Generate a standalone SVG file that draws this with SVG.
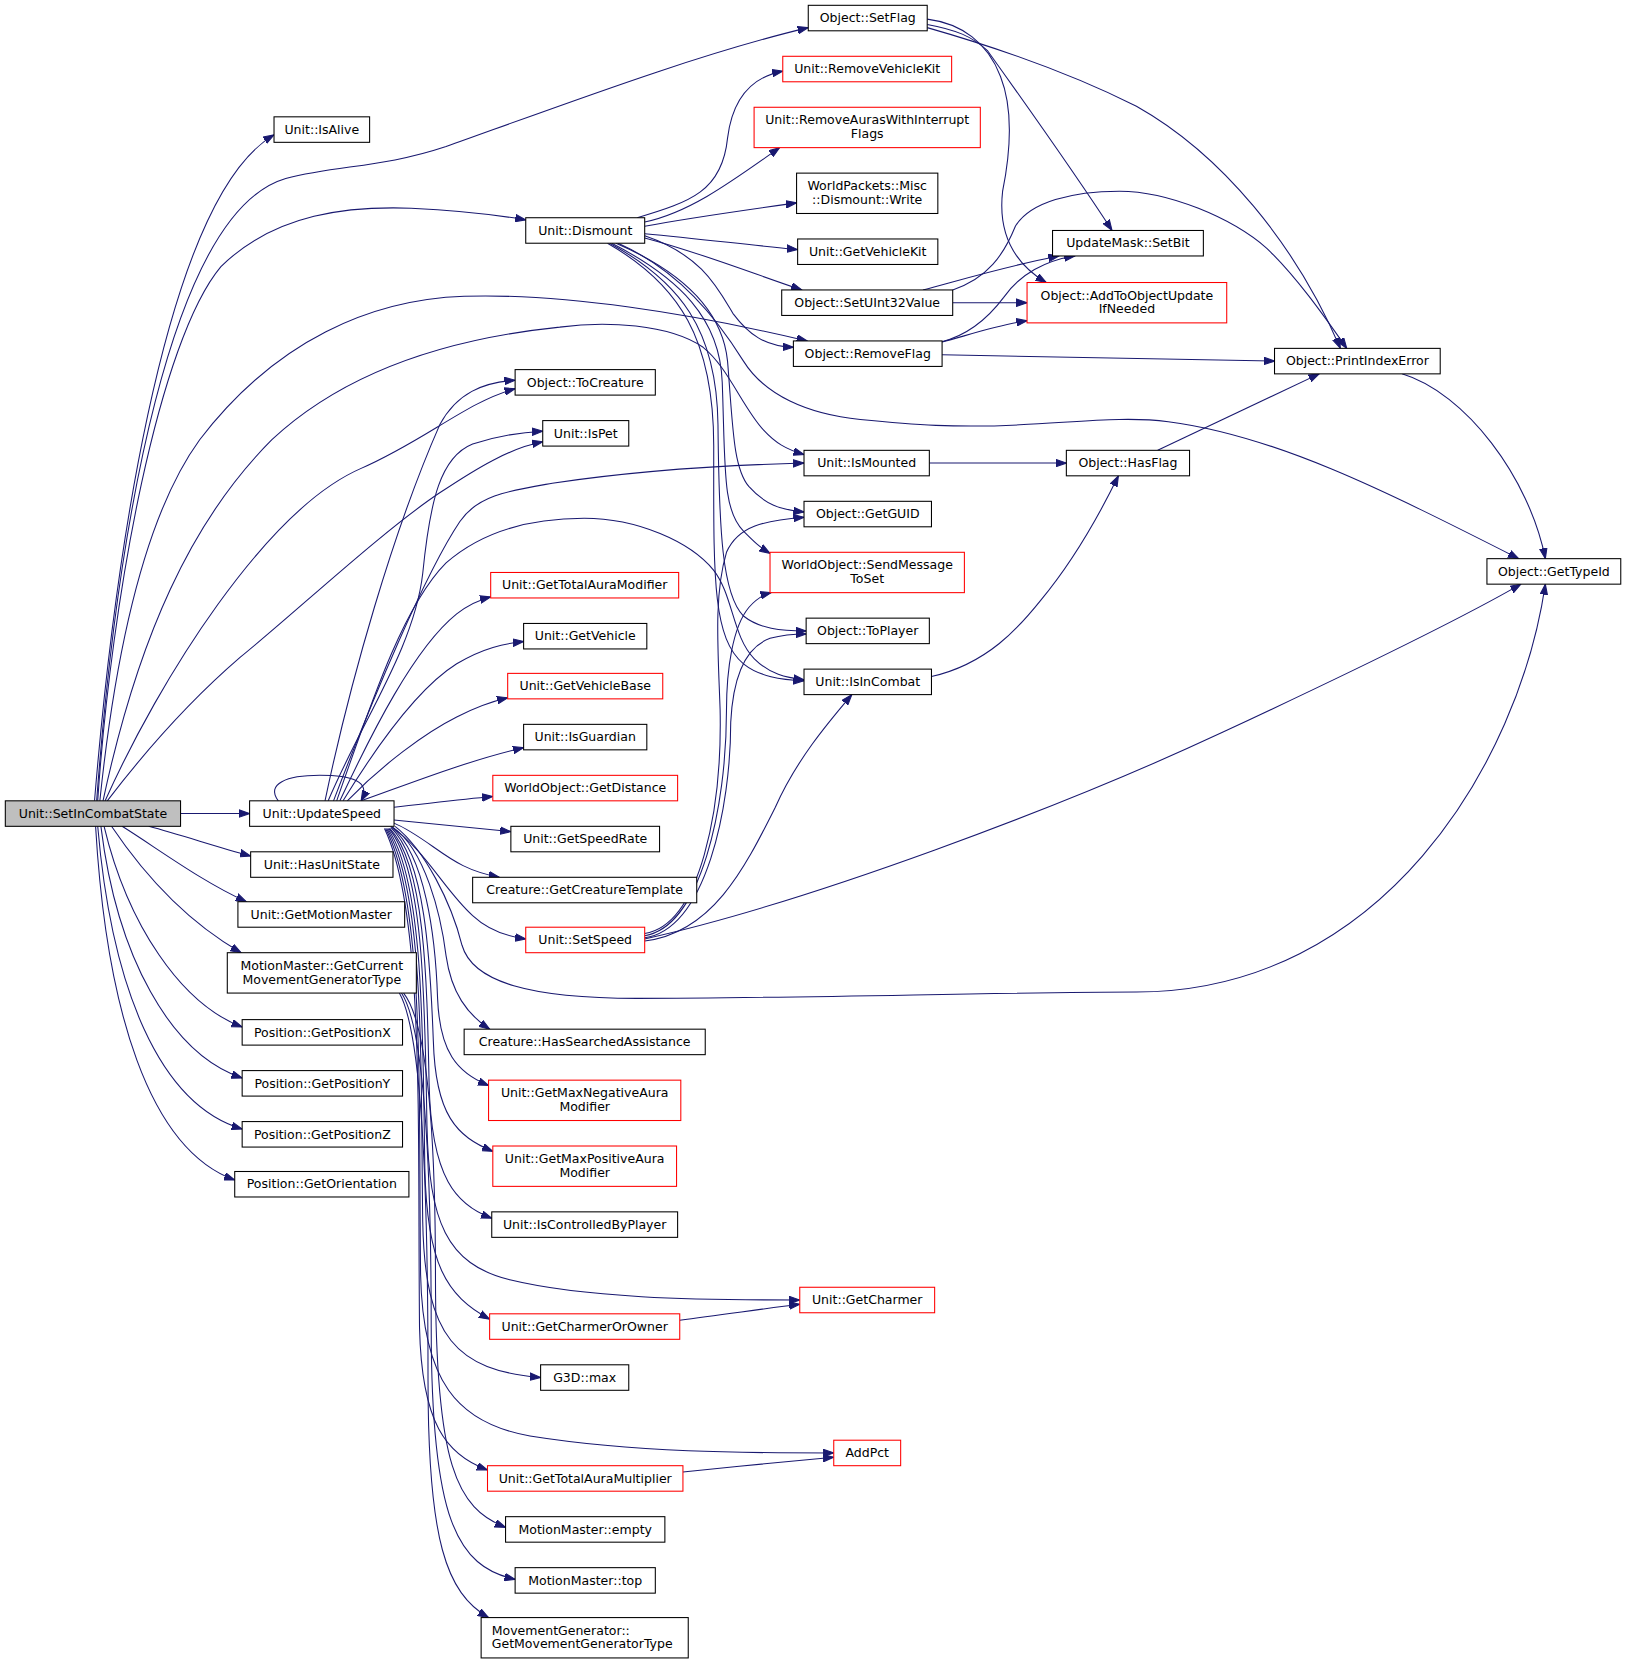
<svg xmlns="http://www.w3.org/2000/svg" width="1625" height="1663" viewBox="0 0 1625 1663">
<style>
.n rect{fill:#fff;stroke:#000;stroke-width:1}
.r rect{stroke:#f00}
.g rect{fill:#bfbfbf}
text{font-family:"DejaVu Sans","Liberation Sans",sans-serif;font-size:11.8px;text-anchor:middle;fill:#000}
.l text{text-anchor:start}
#edges path{fill:none;stroke:#191970;stroke-width:1;marker-end:url(#a)}
</style>
<defs>
<marker id="a" markerUnits="userSpaceOnUse" markerWidth="11" markerHeight="8" refX="10" refY="4" orient="auto"><path d="M0,0.5 L10,4 L0,7.5 z" fill="#191970" stroke="#191970" stroke-width="1"/></marker>
</defs>
<rect width="1625" height="1663" fill="#fff"/>
<g transform="scale(1.0621)">
<g id="edges">
<path d="M89,754 C105,560 150,190 258,127"/>
<path d="M91,754 C110,500 160,200 269,168 C320,155 360,158 420,138 C540,95 660,50 761,26"/>
<path d="M92,754 C105,560 150,320 208,251 C260,200 330,194 387,196 C430,198 460,201 495,207"/>
<path d="M94,754 C110,600 140,480 188,414 C260,320 350,282 437,279 C530,276 650,295 760,321"/>
<path d="M97,754 C130,600 180,490 256,414 C330,345 430,318 527,308 C570,302 630,305 662,327 C685,345 700,385 719,405 C730,417 740,423 757,428"/>
<path d="M99,754 C150,640 250,480 340,441 C400,415 440,378 485,366"/>
<path d="M101,754 C150,690 190,650 226,619 C280,575 360,500 414,464 C450,440 480,422 511,416"/>
<path d="M170,766 L235,766"/>
<path d="M140,778 C170,786 200,796 236,806"/>
<path d="M115,778 C150,800 190,830 232,849"/>
<path d="M105,778 C140,830 180,870 227,897"/>
<path d="M98,778 C120,870 170,945 228,967"/>
<path d="M95,778 C110,900 160,992 228,1015"/>
<path d="M92,778 C105,930 150,1040 228,1063"/>
<path d="M90,778 C100,950 140,1082 221,1111"/>
<path d="M262,754 C250,738 270,730 301,730 C330,730 350,735 340,754"/>
<path d="M306,754 C330,640 370,500 414,400 C430,370 455,360 485,358"/>
<path d="M309,754 C340,680 390,610 398,540 C405,470 415,430 445,418 C470,410 490,407 511,406"/>
<path d="M314,754 C350,660 400,540 433,491 C450,466 480,462 520,455 C600,443 680,438 757,436"/>
<path d="M317,754 C350,660 380,570 420,530 C460,495 510,488 550,488 C600,488 650,510 672,537 C690,560 690,600 710,620 C725,635 740,638 757,640"/>
<path d="M320,754 C350,690 390,610 430,578 C440,570 450,565 462,562"/>
<path d="M323,754 C350,710 390,650 430,625 C455,610 475,606 493,604"/>
<path d="M327,754 C360,720 400,690 430,675 C450,665 465,660 478,657"/>
<path d="M340,754 C380,740 440,716 493,704"/>
<path d="M371,760 C400,757 430,753 464,750"/>
<path d="M371,772 C410,776 450,780 481,783"/>
<path d="M371,775 C395,785 415,805 436,815 C450,822 460,824 470,826"/>
<path d="M368,778 C400,800 420,840 445,862 C460,876 480,882 495,884"/>
<path d="M372,778 C400,800 425,850 435,890 C445,925 500,940 600,940 C750,940 950,934 1070,934 C1300,934 1430,720 1455,550"/>
<path d="M370,779 C400,800 415,860 420,900 C425,935 440,955 461,969"/>
<path d="M369,779 C400,805 410,880 412,940 C414,990 430,1010 460,1022"/>
<path d="M368,779 C400,810 405,900 408,980 C410,1050 430,1070 464,1084"/>
<path d="M367,780 C400,815 402,920 404,1020 C406,1110 430,1135 463,1147"/>
<path d="M366,780 C400,820 400,950 402,1060 C404,1150 420,1190 480,1205 C550,1222 650,1224 753,1224"/>
<path d="M365,780 C400,830 398,980 400,1100 C402,1190 420,1220 461,1242"/>
<path d="M364,780 C400,840 396,1000 398,1150 C400,1260 430,1290 509,1297"/>
<path d="M363,780 C400,850 394,1030 396,1200 C398,1300 430,1340 499,1352 C600,1368 700,1368 785,1368"/>
<path d="M362,780 C400,860 393,1060 395,1250 C397,1340 420,1370 459,1384"/>
<path d="M380,935 C400,960 410,1050 410,1200 C410,1380 430,1420 476,1438"/>
<path d="M378,935 C398,965 406,1080 406,1250 C406,1430 430,1475 485,1487"/>
<path d="M376,935 C396,970 403,1100 403,1300 C403,1450 420,1500 460,1523"/>
<path d="M640,1243 C680,1238 720,1232 753,1228"/>
<path d="M643,1386 C690,1381 740,1376 785,1372"/>
<path d="M600,205 C650,190 680,180 685,130 C690,90 710,72 737,67"/>
<path d="M607,209 C650,200 690,170 734,139"/>
<path d="M607,213 C650,205 700,198 750,191"/>
<path d="M607,220 C660,225 700,230 751,235"/>
<path d="M607,224 C660,238 710,258 755,273"/>
<path d="M607,222 C660,240 675,270 690,295 C705,315 720,326 747,327"/>
<path d="M580,229 C640,255 680,290 685,340 C690,400 690,440 705,458 C720,475 735,480 757,482"/>
<path d="M576,229 C640,262 678,300 680,360 C683,440 680,480 700,500 C710,510 715,515 725,521"/>
<path d="M574,229 C640,265 675,310 676,400 C677,500 680,560 700,580 C715,592 735,594 759,594"/>
<path d="M572,229 C640,268 672,320 672,420 C672,540 670,600 700,625 C715,637 735,640 757,641"/>
<path d="M582,229 C640,255 675,300 700,340 C720,372 760,390 810,395 C860,400 900,403 960,400 C1020,397 1060,392 1100,397 C1200,410 1300,460 1430,526"/>
<path d="M607,884 C760,850 1000,760 1150,690 C1300,620 1380,580 1432,550"/>
<path d="M607,879 C660,870 680,760 678,668 C676,610 672,560 684,520 C695,495 720,490 757,487"/>
<path d="M607,881 C660,872 684,760 684,669 C684,630 690,590 705,572 C712,564 718,560 726,558"/>
<path d="M607,883 C665,874 688,760 688,680 C690,640 700,610 725,601 C740,597 750,597 759,597"/>
<path d="M607,886 C670,878 700,820 730,760 C750,715 780,680 802,654"/>
<path d="M1320,352 C1380,370 1440,450 1455,526"/>
<path d="M877,637 C930,625 960,590 980,565 C1005,535 1030,495 1053,448"/>
<path d="M875,436 L1004,436"/>
<path d="M1090,424 L1242,352"/>
<path d="M887,334 C1000,336 1100,338 1200,340"/>
<path d="M887,322 C910,316 940,306 967,302"/>
<path d="M886,322 C910,316 930,300 945,280 C960,258 985,245 1012,241"/>
<path d="M869,273 C910,262 950,250 997,241"/>
<path d="M897,285 L967,285"/>
<path d="M897,273 C930,262 945,240 956,213 C970,190 1010,180 1054,180 C1100,180 1160,205 1193,234 C1220,260 1245,295 1268,328"/>
<path d="M873,23 C900,28 915,34 930,48 C960,90 1010,160 1047,217"/>
<path d="M873,18 C905,22 930,40 942,72 C955,105 950,150 944,180 C940,215 950,245 985,266"/>
<path d="M873,26 C950,48 1020,75 1070,100 C1150,145 1220,230 1262,328"/>
</g>
<g id="n1" class="n g"><rect x="5" y="754" width="165" height="24"/><text x="87.5" y="770">Unit::SetInCombatState</text></g>
<g id="n2" class="n"><rect x="258" y="110" width="90" height="24"/><text x="303" y="126">Unit::IsAlive</text></g>
<g id="n3" class="n"><rect x="761" y="5" width="112" height="24"/><text x="817" y="21">Object::SetFlag</text></g>
<g id="n4" class="n r"><rect x="737" y="53" width="159" height="24"/><text x="816.5" y="69">Unit::RemoveVehicleKit</text></g>
<g id="n5" class="n r"><rect x="710" y="101" width="213" height="38"/><text x="816.5" y="117">Unit::RemoveAurasWithInterrupt</text><text x="816.5" y="130">Flags</text></g>
<g id="n6" class="n"><rect x="750" y="163" width="133" height="38"/><text x="816.5" y="179">WorldPackets::Misc</text><text x="816.5" y="192">::Dismount::Write</text></g>
<g id="n7" class="n"><rect x="495" y="205" width="112" height="24"/><text x="551" y="221">Unit::Dismount</text></g>
<g id="n8" class="n"><rect x="751" y="225" width="132" height="24"/><text x="817" y="241">Unit::GetVehicleKit</text></g>
<g id="n9" class="n"><rect x="991" y="217" width="142" height="24"/><text x="1062" y="233">UpdateMask::SetBit</text></g>
<g id="n10" class="n"><rect x="736" y="273" width="161" height="24"/><text x="816.5" y="289">Object::SetUInt32Value</text></g>
<g id="n11" class="n r"><rect x="967" y="266" width="188" height="38"/><text x="1061" y="282">Object::AddToObjectUpdate</text><text x="1061" y="295">IfNeeded</text></g>
<g id="n12" class="n"><rect x="747" y="321" width="140" height="24"/><text x="817" y="337">Object::RemoveFlag</text></g>
<g id="n13" class="n"><rect x="1200" y="328" width="156" height="24"/><text x="1278" y="344">Object::PrintIndexError</text></g>
<g id="n14" class="n"><rect x="485" y="348" width="132" height="24"/><text x="551" y="364">Object::ToCreature</text></g>
<g id="n15" class="n"><rect x="511" y="396" width="81" height="24"/><text x="551.5" y="412">Unit::IsPet</text></g>
<g id="n16" class="n"><rect x="757" y="424" width="118" height="24"/><text x="816" y="440">Unit::IsMounted</text></g>
<g id="n17" class="n"><rect x="1004" y="424" width="116" height="24"/><text x="1062" y="440">Object::HasFlag</text></g>
<g id="n18" class="n"><rect x="757" y="472" width="120" height="24"/><text x="817" y="488">Object::GetGUID</text></g>
<g id="n19" class="n r"><rect x="725" y="520" width="183" height="38"/><text x="816.5" y="536">WorldObject::SendMessage</text><text x="816.5" y="549">ToSet</text></g>
<g id="n20" class="n"><rect x="1400" y="526" width="126" height="24"/><text x="1463" y="542">Object::GetTypeId</text></g>
<g id="n21" class="n r"><rect x="462" y="539" width="177" height="24"/><text x="550.5" y="555">Unit::GetTotalAuraModifier</text></g>
<g id="n22" class="n"><rect x="493" y="587" width="116" height="24"/><text x="551" y="603">Unit::GetVehicle</text></g>
<g id="n23" class="n"><rect x="759" y="582" width="116" height="24"/><text x="817" y="598">Object::ToPlayer</text></g>
<g id="n24" class="n r"><rect x="478" y="634" width="146" height="24"/><text x="551" y="650">Unit::GetVehicleBase</text></g>
<g id="n25" class="n"><rect x="757" y="630" width="120" height="24"/><text x="817" y="646">Unit::IsInCombat</text></g>
<g id="n26" class="n"><rect x="493" y="682" width="116" height="24"/><text x="551" y="698">Unit::IsGuardian</text></g>
<g id="n27" class="n r"><rect x="464" y="730" width="174" height="24"/><text x="551" y="746">WorldObject::GetDistance</text></g>
<g id="n28" class="n"><rect x="235" y="754" width="136" height="24"/><text x="303" y="770">Unit::UpdateSpeed</text></g>
<g id="n29" class="n"><rect x="481" y="778" width="140" height="24"/><text x="551" y="794">Unit::GetSpeedRate</text></g>
<g id="n30" class="n"><rect x="236" y="802" width="134" height="24"/><text x="303" y="818">Unit::HasUnitState</text></g>
<g id="n31" class="n"><rect x="445" y="826" width="211" height="24"/><text x="550.5" y="842">Creature::GetCreatureTemplate</text></g>
<g id="n32" class="n"><rect x="224" y="849" width="157" height="24"/><text x="302.5" y="865">Unit::GetMotionMaster</text></g>
<g id="n33" class="n r"><rect x="495" y="873" width="112" height="24"/><text x="551" y="889">Unit::SetSpeed</text></g>
<g id="n34" class="n"><rect x="214" y="897" width="178" height="38"/><text x="303" y="913">MotionMaster::GetCurrent</text><text x="303" y="926">MovementGeneratorType</text></g>
<g id="n35" class="n"><rect x="228" y="960" width="151" height="24"/><text x="303.5" y="976">Position::GetPositionX</text></g>
<g id="n36" class="n"><rect x="437" y="969" width="227" height="24"/><text x="550.5" y="985">Creature::HasSearchedAssistance</text></g>
<g id="n37" class="n"><rect x="228" y="1008" width="151" height="24"/><text x="303.5" y="1024">Position::GetPositionY</text></g>
<g id="n38" class="n r"><rect x="460" y="1017" width="181" height="38"/><text x="550.5" y="1033">Unit::GetMaxNegativeAura</text><text x="550.5" y="1046">Modifier</text></g>
<g id="n39" class="n"><rect x="228" y="1056" width="151" height="24"/><text x="303.5" y="1072">Position::GetPositionZ</text></g>
<g id="n40" class="n r"><rect x="464" y="1079" width="173" height="38"/><text x="550.5" y="1095">Unit::GetMaxPositiveAura</text><text x="550.5" y="1108">Modifier</text></g>
<g id="n41" class="n"><rect x="221" y="1103" width="164" height="24"/><text x="303" y="1119">Position::GetOrientation</text></g>
<g id="n42" class="n"><rect x="463" y="1141" width="175" height="24"/><text x="550.5" y="1157">Unit::IsControlledByPlayer</text></g>
<g id="n43" class="n r"><rect x="753" y="1212" width="127" height="24"/><text x="816.5" y="1228">Unit::GetCharmer</text></g>
<g id="n44" class="n r"><rect x="461" y="1237" width="179" height="24"/><text x="550.5" y="1253">Unit::GetCharmerOrOwner</text></g>
<g id="n45" class="n"><rect x="509" y="1285" width="83" height="24"/><text x="550.5" y="1301">G3D::max</text></g>
<g id="n46" class="n r"><rect x="785" y="1356" width="63" height="24"/><text x="816.5" y="1372">AddPct</text></g>
<g id="n47" class="n r"><rect x="459" y="1380" width="184" height="24"/><text x="551" y="1396">Unit::GetTotalAuraMultiplier</text></g>
<g id="n48" class="n"><rect x="476" y="1428" width="150" height="24"/><text x="551" y="1444">MotionMaster::empty</text></g>
<g id="n49" class="n"><rect x="485" y="1476" width="132" height="24"/><text x="551" y="1492">MotionMaster::top</text></g>
<g id="n50" class="n l"><rect x="453" y="1523" width="195" height="38"/><text x="463" y="1539">MovementGenerator::</text><text x="463" y="1552">GetMovementGeneratorType</text></g>
</g>
</svg>
